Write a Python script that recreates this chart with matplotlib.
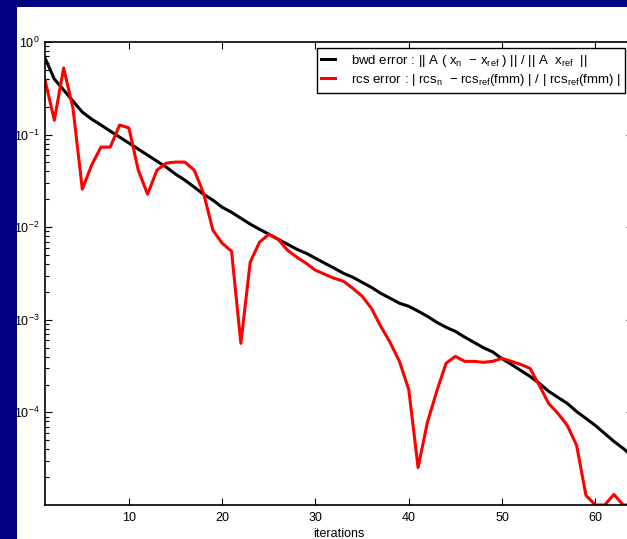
import numpy as np
import matplotlib
matplotlib.use("Agg")
import matplotlib.pyplot as plt
from matplotlib.patches import Rectangle
from matplotlib.ticker import LogLocator, NullFormatter

plt.rcParams['font.family'] = ['Liberation Sans', 'DejaVu Sans']
plt.rcParams['mathtext.fontset'] = 'custom'
plt.rcParams['mathtext.rm'] = 'Liberation Sans'
plt.rcParams['mathtext.it'] = 'Liberation Sans'

# ---------- data ----------
iterations = np.arange(1, 65)

bwd_error = [
    0.671, 0.398, 0.303, 0.230, 0.175, 0.147, 0.127, 0.109, 0.094, 0.081,
    0.0697, 0.0600, 0.0517, 0.0445, 0.0374, 0.0322, 0.0271, 0.0227, 0.0196, 0.0164,
    0.0145, 0.0125, 0.0108, 0.0095, 0.0084, 0.0074, 0.00655, 0.00578, 0.00523, 0.00462,
    0.00408, 0.00361, 0.00318, 0.00288, 0.00254, 0.00224, 0.00193, 0.00171, 0.00151, 0.00140,
    0.00124, 0.00109, 0.00094, 0.00083, 0.00075, 0.00065, 0.00057, 0.00050, 0.00045, 0.00038,
    0.00033, 0.000284, 0.000245, 0.000206, 0.000169, 0.000145, 0.000125, 0.000102, 8.61e-5, 7.23e-5,
    5.93e-5, 4.86e-5, 4.08e-5, 3.34e-5,
]

rcs_error = [
    0.388, 0.143, 0.524, 0.193, 0.0258, 0.0468, 0.0733, 0.0733, 0.127, 0.118,
    0.0413, 0.0227, 0.0413, 0.0492, 0.0505, 0.0505, 0.0413, 0.0233, 0.00929, 0.00671,
    0.00550, 0.000557, 0.00419, 0.00689, 0.0084, 0.0074, 0.00564, 0.00474, 0.00408, 0.00343,
    0.00310, 0.00281, 0.00261, 0.00219, 0.00180, 0.00133, 0.00085, 0.00057, 0.000356, 0.000177,
    2.54e-5, 7.80e-5, 0.000169, 0.000339, 0.000403, 0.000356, 0.000356, 0.000347, 0.000356, 0.000384,
    0.000356, 0.000330, 0.000299, 0.000196, 0.000125, 9.75e-5, 7.23e-5, 4.40e-5, 1.27e-5, 1.0e-5,
    1.0e-5, 1.30e-5, 1.0e-5, 1.0e-5,
]

bwd_label = (r"bwd error : || A ( x$_\mathregular{n}$  $-$ x$_\mathregular{ref}$ ) || / "
             r"|| A  x$_\mathregular{ref}$  ||")
rcs_label = (r"rcs error : | rcs$_\mathregular{n}$  $-$ rcs$_\mathregular{ref}$(fmm) | / "
             r"| rcs$_\mathregular{ref}$(fmm) |")

# ---------- figure ----------
W, H = 627, 539
fig = plt.figure(figsize=(W / 100, H / 100), dpi=100)
fig.patch.set_facecolor('#000080')
fig.patches.append(Rectangle((17 / W, 0), 1, (H - 7) / H, transform=fig.transFigure,
                             facecolor='white', edgecolor='none', zorder=-10))

ax = fig.add_axes([45 / W, (H - 505) / H, (632.6 - 45) / W, (505 - 42) / H])
ax.set_zorder(1)
ax.set_facecolor('white')

ax.plot(iterations, bwd_error, color='black', lw=2.2, label=bwd_label)
ax.plot(iterations, rcs_error, color='red', lw=2.2, label=rcs_label)

ax.set_yscale('log')
ax.set_xlim(1, 64)
ax.set_ylim(1e-5, 1)
ax.set_xticks([10, 20, 30, 40, 50, 60])
ax.set_yticks([1e-4, 1e-3, 1e-2, 1e-1, 1])
ax.yaxis.set_minor_locator(LogLocator(base=10, subs=np.arange(2, 10)))
ax.yaxis.set_minor_formatter(NullFormatter())

ax.tick_params(which='both', direction='in', top=True, right=True, labelsize=9, width=0.8)
ax.tick_params(which='major', length=5)
ax.tick_params(which='minor', length=3)
ax.tick_params(axis='x', pad=5)
ax.tick_params(axis='y', pad=4)
for s in ax.spines.values():
    s.set_linewidth(1.2)

ax.set_xlabel('iterations', fontsize=9, labelpad=3)

leg = ax.legend(loc='upper right', bbox_to_anchor=(625 / W, 1 - 48 / H),
                bbox_transform=fig.transFigure, borderaxespad=0, fontsize=9.5,
                fancybox=False, framealpha=1, edgecolor='black',
                handlelength=1.0, handletextpad=1.2, borderpad=0.35, labelspacing=0.25)
leg.get_frame().set_linewidth(1.0)

fig.savefig('out.png', dpi=100, facecolor=fig.get_facecolor())
